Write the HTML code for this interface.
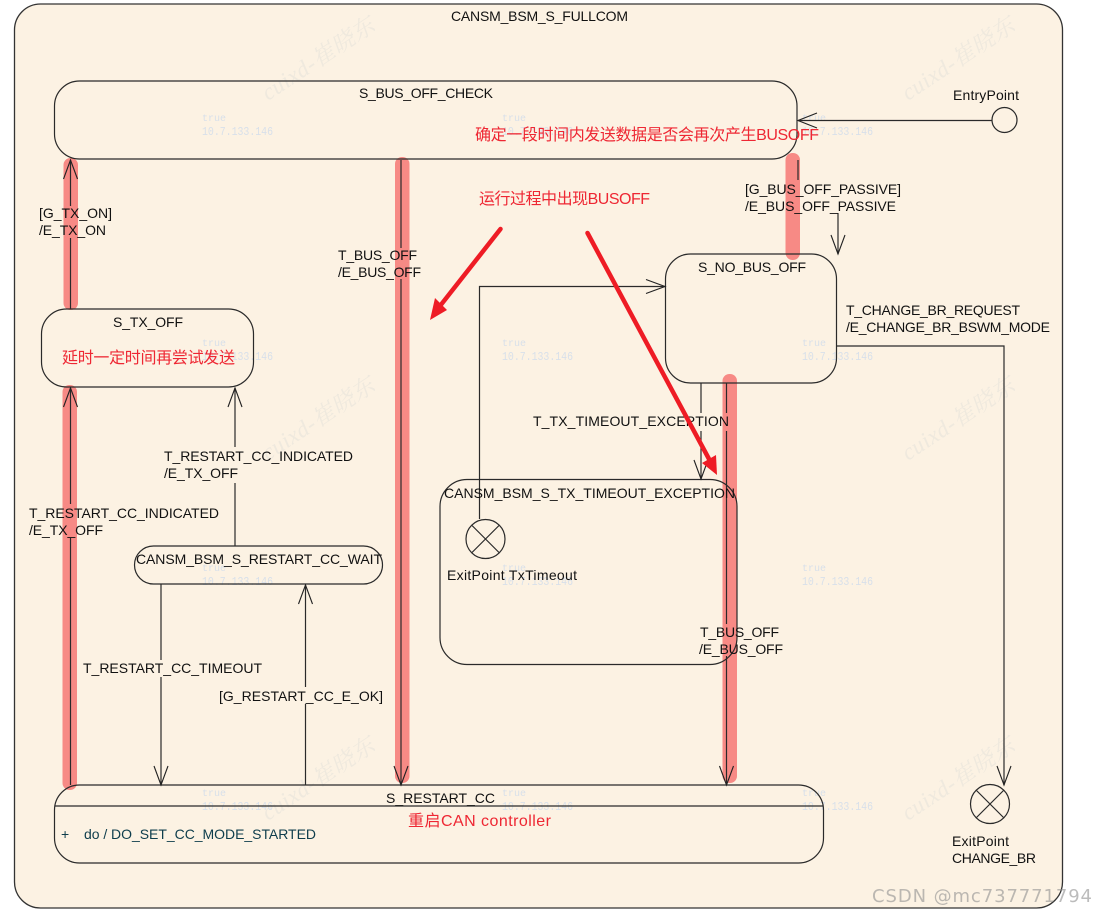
<!DOCTYPE html>
<html lang="zh">
<head>
<meta charset="utf-8">
<title>CANSM_BSM_S_FULLCOM</title>
<style>
html,body{margin:0;padding:0;background:#fff;width:1096px;height:912px;overflow:hidden}
svg{display:block}
.t{font-family:"Liberation Sans",sans-serif;font-size:14px;fill:#111}
.r{font-family:"Liberation Sans","Noto Sans CJK SC",sans-serif;font-size:16px;fill:#ee2733}
.wt{font-family:"Liberation Mono",monospace;fill:#d8e0ea;font-size:10px}
.ip{font-family:"Liberation Mono",monospace;fill:#d8e0ea;font-size:12px}
.wm{font-family:"Liberation Serif","Noto Serif CJK SC",serif;font-style:italic;font-size:23px;fill:#efe9de}
.s{fill:none;stroke:#2a2a2a;stroke-width:1.2}
.h{fill:none;stroke:#222;stroke-width:1.1}
.b{fill:#f78a85}
</style>
</head>
<body>
<svg width="1096" height="912" viewBox="0 0 1096 912" xmlns="http://www.w3.org/2000/svg">
<rect width="1096" height="912" fill="#fff"/>
<rect x="14.5" y="4" width="1048" height="904" rx="26" ry="26" fill="#fcf2e3" stroke="#333" stroke-width="1.3"/>

<!-- watermarks -->
<g class="wm">
<text transform="translate(268,101) rotate(-33.5)" textLength="130">cuixd-崔晓东</text>
<text transform="translate(908,101) rotate(-33.5)" textLength="130">cuixd-崔晓东</text>
<text transform="translate(268,461) rotate(-33.5)" textLength="130">cuixd-崔晓东</text>
<text transform="translate(908,461) rotate(-33.5)" textLength="130">cuixd-崔晓东</text>
<text transform="translate(268,821) rotate(-33.5)" textLength="130">cuixd-崔晓东</text>
<text transform="translate(908,821) rotate(-33.5)" textLength="130">cuixd-崔晓东</text>
</g>
<g class="wt">
<text x="202" y="121">true</text>
<text x="502" y="121">true</text>
<text x="802" y="121">true</text>
<text x="202" y="346">true</text>
<text x="502" y="346">true</text>
<text x="802" y="346">true</text>
<text x="202" y="571">true</text>
<text x="502" y="571">true</text>
<text x="802" y="571">true</text>
<text x="202" y="796">true</text>
<text x="502" y="796">true</text>
<text x="802" y="796">true</text>
</g>
<g class="ip">
<text x="202" y="135" textLength="71" lengthAdjust="spacingAndGlyphs">10.7.133.146</text>
<text x="502" y="135" textLength="71" lengthAdjust="spacingAndGlyphs">10.7.133.146</text>
<text x="802" y="135" textLength="71" lengthAdjust="spacingAndGlyphs">10.7.133.146</text>
<text x="202" y="360" textLength="71" lengthAdjust="spacingAndGlyphs">10.7.133.146</text>
<text x="502" y="360" textLength="71" lengthAdjust="spacingAndGlyphs">10.7.133.146</text>
<text x="802" y="360" textLength="71" lengthAdjust="spacingAndGlyphs">10.7.133.146</text>
<text x="202" y="585" textLength="71" lengthAdjust="spacingAndGlyphs">10.7.133.146</text>
<text x="502" y="585" textLength="71" lengthAdjust="spacingAndGlyphs">10.7.133.146</text>
<text x="802" y="585" textLength="71" lengthAdjust="spacingAndGlyphs">10.7.133.146</text>
<text x="202" y="810" textLength="71" lengthAdjust="spacingAndGlyphs">10.7.133.146</text>
<text x="502" y="810" textLength="71" lengthAdjust="spacingAndGlyphs">10.7.133.146</text>
<text x="802" y="810" textLength="71" lengthAdjust="spacingAndGlyphs">10.7.133.146</text>
</g>

<!-- highlight bands -->
<rect class="b" x="63.5" y="158" width="14.5" height="152" rx="7"/>
<rect class="b" x="62.5" y="385" width="14.5" height="405" rx="7"/>
<rect class="b" x="395" y="157" width="14.5" height="626" rx="7"/>
<rect class="b" x="785.5" y="153" width="14.5" height="107" rx="7"/>
<rect class="b" x="722.5" y="374" width="14.5" height="409" rx="7"/>

<!-- states -->
<g class="s">
<rect x="54.5" y="81" width="742.5" height="78" rx="25"/>
<rect x="41.5" y="309" width="212" height="78" rx="25"/>
<rect x="665.5" y="254" width="171" height="129" rx="25"/>
<rect x="134.5" y="546" width="248" height="38" rx="19"/>
<rect x="440" y="479.5" width="297" height="185" rx="27"/>
<rect x="54.5" y="785" width="769" height="78" rx="25"/>
<path d="M55 806H823.5"/>
<circle cx="1004.5" cy="120" r="12.5"/>
<circle cx="485.5" cy="539" r="19.5"/>
<path d="M472 525.5L499 552.5M499 525.5L472 552.5"/>
<circle cx="990" cy="804" r="19.5"/>
<path d="M976.5 790.5L1003.5 817.5M1003.5 790.5L976.5 817.5"/>
</g>

<!-- connectors -->
<g class="s">
<path d="M70.5 309V238M70.5 206V160"/>
<path d="M70.5 785V538M70.5 504V388"/>
<path d="M401 160V248M401 279V784"/>
<path d="M992 120.5H798"/>
<path d="M798 160V180M838 213V254"/>
<path d="M479.5 519V286.5H665"/>
<path d="M701 383V413M701 431V479"/>
<path d="M726.5 383V413M726.5 431V624M726.5 656V784"/>
<path d="M836.5 346H1004V785"/>
<path d="M235 546V483M235 447V388"/>
<path d="M161 584V660M161 677V785"/>
<path d="M305.5 785V704M305.5 687V585"/>
</g>
<!-- arrowheads -->
<g class="h">
<path d="M63.5 179L70.5 160L77.5 179"/>
<path d="M63.5 407L70.5 388L77.5 407"/>
<path d="M394 766L401 785L408 766"/>
<path d="M817 113L798 120.5L817 128"/>
<path d="M831 235L838 254L845 235"/>
<path d="M646 279.5L665 286.5L646 293.5"/>
<path d="M694 460L701 479L708 460"/>
<path d="M719.5 766L726.5 785L733.5 766"/>
<path d="M997 766L1004 785L1011 766"/>
<path d="M228 407L235 388L242 407"/>
<path d="M154 766L161 785L168 766"/>
<path d="M298.5 604L305.5 585L312.5 604"/>
</g>

<!-- labels -->
<g class="t">
<text x="451" y="21" textLength="177">CANSM_BSM_S_FULLCOM</text>
<text x="359" y="98" textLength="134">S_BUS_OFF_CHECK</text>
<text x="113" y="327" textLength="70">S_TX_OFF</text>
<text x="39" y="218" textLength="73">[G_TX_ON]</text>
<text x="39" y="235" textLength="67">/E_TX_ON</text>
<text x="338" y="260" textLength="79">T_BUS_OFF</text>
<text x="338" y="277" textLength="83">/E_BUS_OFF</text>
<text x="953" y="100" textLength="66">EntryPoint</text>
<text x="745" y="194" textLength="156">[G_BUS_OFF_PASSIVE]</text>
<text x="745" y="211" textLength="151">/E_BUS_OFF_PASSIVE</text>
<text x="698" y="272" textLength="108">S_NO_BUS_OFF</text>
<text x="846" y="315" textLength="174">T_CHANGE_BR_REQUEST</text>
<text x="846" y="332" textLength="204">/E_CHANGE_BR_BSWM_MODE</text>
<text x="533" y="426" textLength="196">T_TX_TIMEOUT_EXCEPTION</text>
<text x="164" y="461" textLength="189">T_RESTART_CC_INDICATED</text>
<text x="164" y="478" textLength="74">/E_TX_OFF</text>
<text x="29" y="518" textLength="190">T_RESTART_CC_INDICATED</text>
<text x="29" y="535" textLength="74">/E_TX_OFF</text>
<text x="444" y="498" textLength="291">CANSM_BSM_S_TX_TIMEOUT_EXCEPTION</text>
<text x="136" y="564" textLength="246">CANSM_BSM_S_RESTART_CC_WAIT</text>
<text x="447" y="580" textLength="130">ExitPoint TxTimeout</text>
<text x="700" y="637" textLength="79">T_BUS_OFF</text>
<text x="699" y="654" textLength="84">/E_BUS_OFF</text>
<text x="83" y="673" textLength="179">T_RESTART_CC_TIMEOUT</text>
<text x="219" y="701" textLength="164">[G_RESTART_CC_E_OK]</text>
<text x="386" y="803" textLength="109">S_RESTART_CC</text>
<text x="61" y="839" style="fill:#0e3d4c">+</text>
<text x="84" y="839" textLength="232" style="fill:#0e3d4c">do / DO_SET_CC_MODE_STARTED</text>
<text x="952" y="846" textLength="57">ExitPoint</text>
<text x="952" y="863" textLength="84">CHANGE_BR</text>
</g>

<!-- red annotations -->
<g class="r">
<text x="475" y="140" textLength="344">确定一段时间内发送数据是否会再次产生BUSOFF</text>
<text x="479" y="204" textLength="171">运行过程中出现BUSOFF</text>
<text x="62" y="363" textLength="173">延时一定时间再尝试发送</text>
<text x="408" y="826" textLength="143">重启CAN controller</text>
</g>
<path d="M500.5 229L440 306" stroke="#ee1c25" stroke-width="4.5" stroke-linecap="round" fill="none"/>
<polygon points="430,320 435,298 447,310" fill="#ee1c25"/>
<path d="M587.5 233L709 459" stroke="#ee1c25" stroke-width="4.5" stroke-linecap="round" fill="none"/>
<polygon points="717,475 702,463 716,455" fill="#ee1c25"/>

<text x="872" y="902" textLength="220" style="font-family:'DejaVu Sans',sans-serif;font-size:18px;fill:#8f8f8f;fill-opacity:.6">CSDN @mc737771794</text>
</svg>
</body>
</html>
